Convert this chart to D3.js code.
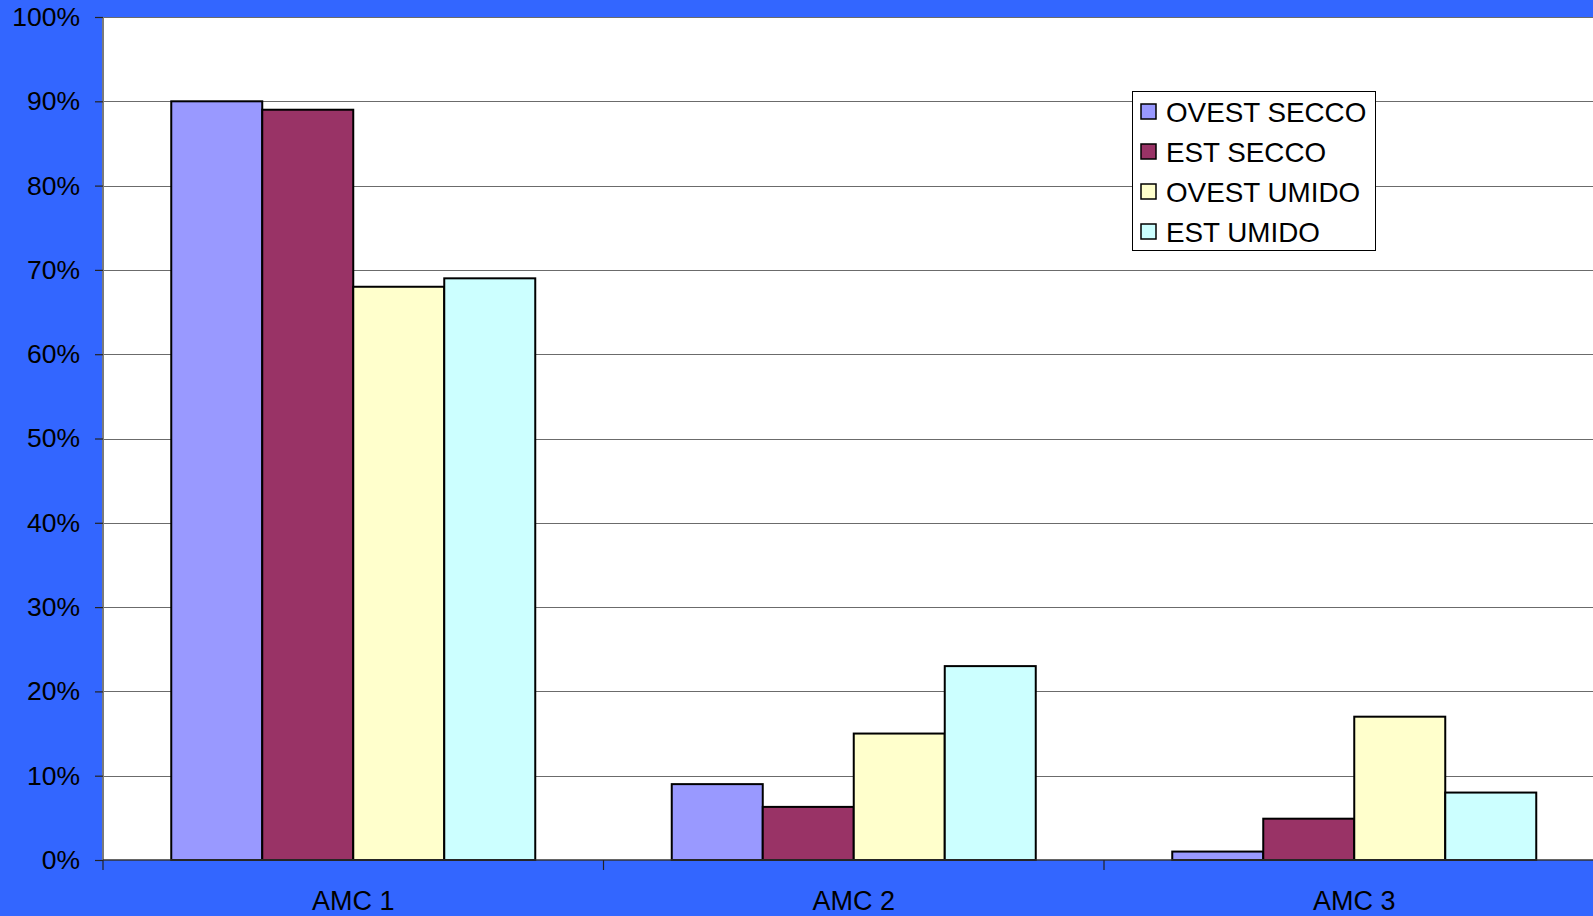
<!DOCTYPE html>
<html>
<head>
<meta charset="utf-8">
<script src="https://cdn.jsdelivr.net/npm/d3@7"></script>
<style>
  html, body { margin: 0; padding: 0; background: #3366FF; overflow: hidden; }
  svg { display: block; }
  text { font-family: "Liberation Sans", Arial, sans-serif; fill: #000; }
</style>
</head>
<body>
<svg id="chart" width="1593" height="916"></svg>
<script>
// Categories and series
const categories = ["AMC 1", "AMC 2", "AMC 3"];
const seriesNames = ["OVEST SECCO", "EST SECCO", "OVEST UMIDO", "EST UMIDO"];
const seriesColors = ["#9999FF", "#993366", "#FFFFCC", "#CCFFFF"];

// Share per category, one array per series
const ovestSecco = [0.90, 0.09, 0.01];
const estSecco   = [0.89, 0.063, 0.049];
const ovestUmido = [0.68, 0.15, 0.17];
const estUmido   = [0.69, 0.23, 0.08];
const seriesValues = [ovestSecco, estSecco, ovestUmido, estUmido];

const yTicks = [0, 0.1, 0.2, 0.3, 0.4, 0.5, 0.6, 0.7, 0.8, 0.9, 1.0];

const svg = d3.select("#chart");
const W = 1593, H = 916;

const plot = { left: 103, top: 17, bottom: 860, bandWidth: 500.5 };

svg.append("rect").attr("width", W).attr("height", H).attr("fill", "#3366FF");

const x0 = d3.scaleBand()
  .domain(categories)
  .range([plot.left, plot.left + plot.bandWidth * categories.length])
  .padding(0);

const x1 = d3.scaleBand()
  .domain(seriesNames)
  .range([0, x0.bandwidth()])
  .paddingInner(0)
  .paddingOuter(0.75);

const y = d3.scaleLinear().domain([0, 1]).range([plot.bottom, plot.top]);

// Plot area
svg.append("rect")
  .attr("x", plot.left).attr("y", plot.top)
  .attr("width", W - plot.left + 20).attr("height", plot.bottom - plot.top)
  .attr("fill", "#FFFFFF");

// Horizontal gridlines
svg.append("g")
  .selectAll("line")
  .data(yTicks.slice(1))
  .join("line")
  .attr("x1", plot.left).attr("x2", W)
  .attr("y1", d => Math.round(y(d)) + 0.5).attr("y2", d => Math.round(y(d)) + 0.5)
  .attr("stroke", "#6b6b6b").attr("stroke-width", 1.2);

// Bars
const groups = svg.append("g")
  .selectAll("g")
  .data(categories)
  .join("g")
  .attr("transform", c => `translate(${x0(c)},0)`);

groups.selectAll("rect")
  .data((c, ci) => seriesNames.map((s, si) => ({ s, si, v: seriesValues[si][ci] })))
  .join("rect")
  .attr("x", d => x1(d.s))
  .attr("y", d => y(d.v))
  .attr("width", x1.bandwidth())
  .attr("height", d => y(0) - y(d.v))
  .attr("fill", d => seriesColors[d.si])
  .attr("stroke", "#000").attr("stroke-width", 2);

// Left plot border
svg.append("line")
  .attr("x1", plot.left).attr("x2", plot.left)
  .attr("y1", plot.top).attr("y2", plot.bottom)
  .attr("stroke", "#7a7a7a").attr("stroke-width", 2);

// Y axis
const yAxis = svg.append("g")
  .attr("transform", `translate(${plot.left},0)`)
  .call(d3.axisLeft(y).tickValues(yTicks).tickFormat(d3.format(".0%")).tickSize(8).tickPadding(15));
yAxis.select(".domain").remove();
yAxis.selectAll(".tick line").attr("stroke", "#222").attr("stroke-width", 1.2);
yAxis.selectAll("text").attr("font-size", 26.5).attr("font-family", "Liberation Sans, Arial, sans-serif").attr("fill", "#000");

// X axis
svg.append("line")
  .attr("x1", plot.left).attr("x2", W)
  .attr("y1", plot.bottom).attr("y2", plot.bottom)
  .attr("stroke", "#333").attr("stroke-width", 1.5);

svg.append("g")
  .selectAll("line")
  .data(categories)
  .join("line")
  .attr("x1", c => x0(c)).attr("x2", c => x0(c))
  .attr("y1", plot.bottom).attr("y2", plot.bottom + 10)
  .attr("stroke", "#222").attr("stroke-width", 1.2);

const xAxis = svg.append("g")
  .attr("transform", `translate(0,${plot.bottom})`)
  .call(d3.axisBottom(x0).tickSize(0).tickPadding(31));
xAxis.select(".domain").remove();
xAxis.selectAll("text").attr("font-size", 27).attr("font-family", "Liberation Sans, Arial, sans-serif").attr("fill", "#000");

// Legend
const legend = svg.append("g").attr("transform", "translate(1132,91)");
legend.append("rect")
  .attr("x", 0.5).attr("y", 0.5).attr("width", 243).attr("height", 159)
  .attr("fill", "#FFFFFF").attr("stroke", "#000").attr("stroke-width", 1);

const items = legend.selectAll("g.item")
  .data(seriesNames)
  .join("g")
  .attr("class", "item")
  .attr("transform", (d, i) => `translate(0,${20.5 + i * 40})`);

items.append("rect")
  .attr("x", 9).attr("y", -7.5).attr("width", 15).attr("height", 15)
  .attr("fill", (d, i) => seriesColors[i])
  .attr("stroke", "#000").attr("stroke-width", 1.5);

items.append("text")
  .attr("x", 34).attr("y", 0).attr("dy", "0.36em")
  .attr("font-size", 27.8)
  .text(d => d);
</script>
</body>
</html>
